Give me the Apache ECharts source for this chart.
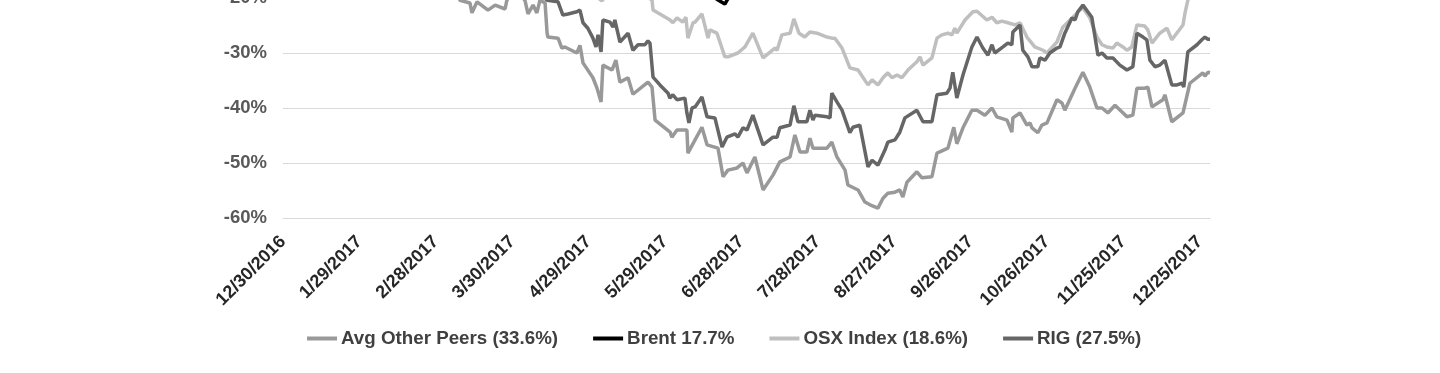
<!DOCTYPE html>
<html>
<head>
<meta charset="utf-8">
<script src="https://cdn.jsdelivr.net/npm/echarts@6/dist/echarts.min.js"></script>
<style>
  html, body { margin: 0; padding: 0; background: #fff; }
  #chart { width: 1440px; height: 373px; }
</style>
</head>
<body>
<div id="chart"></div>
<script>
// x = days since 12/30/2016, y = % change
const xTickLabels = ['12/30/2016','1/29/2017','2/28/2017','3/30/2017','4/29/2017','5/29/2017','6/28/2017','7/28/2017','8/27/2017','9/26/2017','10/26/2017','11/25/2017','12/25/2017'];
const yTicks = [-60, -50, -40, -30, -20];
const seriesNames = ['Avg Other Peers (33.6%)', 'Brent 17.7%', 'OSX Index (18.6%)', 'RIG (27.5%)'];

const avgPeers = [[0,0],[10,3],[20,1],[30,-3],[40,-6],[50,-10],[60,-14],[66,-17],
[69.5,-20.4],[73.4,-20.9],[74.2,-22.7],[76.2,-20.7],[80.5,-22.2],[83.3,-21.3],[87.2,-22.0],[87.9,-20.4],[91.1,-18.5],
[95.0,-20.4],[96.2,-22.9],[98.2,-21.3],[99.7,-22.7],[100.9,-20.4],[102.9,-20.9],[103.7,-26.4],[104.0,-27.1],[108.0,-27.3],
[109.5,-29.1],[110.7,-28.9],[115.4,-30.0],[116.6,-28.6],[117.8,-31.8],[121.7,-34.5],[123.3,-36.4],[124.9,-38.9],[125.6,-32.2],
[129.2,-33.1],[130.7,-31.3],[132.3,-35.3],[135.5,-34.5],[137.4,-37.5],[143.3,-35.3],[144.9,-36.2],[146.1,-42.2],[152.0,-44.4],
[152.7,-45.3],[154.7,-44.0],[158.6,-44.0],[159.0,-48.2],[161.8,-45.8],[164.5,-43.5],[166.5,-46.7],[170.8,-47.3],[172.8,-52.5],
[174.7,-51.3],[178.3,-50.9],[180.6,-50.0],[182.2,-51.8],[185.3,-48.9],[188.5,-54.9],[192.4,-52.2],[195.1,-49.8],[199.1,-48.9],
[201.0,-44.9],[203.0,-48.0],[205.7,-48.0],[206.9,-45.5],[208.1,-47.3],[213.6,-47.3],[215.5,-46.2],[217.5,-48.9],[220.7,-51.3],
[221.8,-54.0],[225.8,-54.9],[228.5,-57.1],[230.5,-57.6],[233.6,-58.2],[235.6,-56.4],[237.5,-55.5],[240.3,-55.3],[242.2,-54.9],
[243.4,-56.2],[245.0,-53.5],[248.9,-51.6],[250.9,-52.7],[254.8,-52.5],[256.8,-48.2],[261.1,-47.3],[263.4,-43.5],[264.6,-46.5],
[267.0,-43.6],[270.5,-40.4],[272.5,-40.4],[275.6,-41.3],[278.4,-40.0],[280.3,-41.6],[284.3,-42.2],[286.2,-44.4],[286.6,-41.8],
[289.4,-40.9],[292.1,-43.1],[293.3,-42.7],[294.1,-43.6],[296.4,-44.5],[298.0,-43.1],[300.0,-42.7],[303.9,-38.5],[305.9,-39.1],
[307.0,-40.4],[311.0,-36.4],[314.1,-33.5],[316.8,-36.2],[319.6,-40.0],[321.6,-40.0],[323.9,-40.9],[326.7,-39.5],[331.4,-41.6],
[333.7,-41.3],[335.3,-36.4],[338.4,-36.4],[339.6,-36.2],[341.2,-39.8],[345.5,-38.5],[346.3,-37.6],[349.0,-42.5],[353.4,-40.9],
[356.1,-35.5],[361.2,-33.6],[362.0,-34.2],[363.2,-33.5],[364,-33.6]];

const brent = [[0,0],[5,-1],[12,-2.5],[19,-3],[26,-3.5],[33,-0.5],[40,-1.5],[47,-2.5],[54,-1.5],[61,-1],[68,-7],[75,-10],
[82,-9],[89,-11],[96,-6],[103,-1],[110,-3],[117,-8],[124,-13.5],[131,-11],[138,-8],[145,-4.5],[152,-11],[159,-14],[164,-17],
[168,-19.5],[171,-20.4],[173.5,-21.1],[174.5,-20.3],[178,-18.5],[182,-16],[189,-16],[196,-14],[203,-13],[210,-9],[217,-7],
[224,-8.5],[231,-9.5],[238,-8],[245,-7],[252,-5],[259,-2],[266,-1],[273,1],[280,-1.5],[287,1],[294,3],[301,8],[308,6],
[315,10],[322,10.5],[329,12],[336,10],[343,11],[350,12.5],[357,16],[364,17.7]];

const osx = [[0,0],[7,2],[14,3],[21,1],[28,2],[35,-1],[42,-3],[49,-2],[56,-4],[63,-6],[70,-9],[77,-10],[84,-12],[91,-11],
[98,-13],[105,-14],[112,-16],[118,-18],[125.2,-20.5],[130,-18],[136,-17],[141,-19],
[144.9,-20.4],[145.3,-22.2],[152.0,-24.0],[153.1,-24.5],[154.7,-23.6],[157.0,-24.4],[158.2,-23.5],[159.0,-27.3],[161.0,-24.5],
[161.8,-24.4],[164.5,-22.9],[166.9,-27.3],[167.6,-25.8],[170.4,-26.4],[173.5,-30.7],[174.7,-30.7],[178.6,-30.0],[181.4,-28.9],
[184.5,-26.4],[188.5,-30.9],[193.2,-29.1],[194.0,-29.5],[195.9,-26.7],[199.1,-26.4],[200.6,-23.8],[202.6,-26.4],[204.9,-27.1],
[206.9,-26.2],[209.7,-26.4],[213.6,-27.1],[215.5,-27.3],[216.7,-27.3],[219.5,-29.1],[222.6,-32.7],[225.8,-33.1],[229.7,-35.8],
[231.3,-34.9],[233.6,-35.8],[235.6,-34.5],[237.5,-33.6],[239.1,-34.5],[241.1,-34.0],[243.0,-34.5],[245.4,-33.1],[248.9,-31.6],
[250.1,-30.7],[251.3,-32.2],[254.8,-30.9],[256.8,-27.3],[258.7,-26.7],[261.1,-26.4],[262.7,-26.7],[263.8,-25.5],[264.6,-26.4],
[267.8,-24.0],[270.9,-22.5],[272.5,-22.4],[276.4,-24.0],[278.4,-23.5],[280.3,-24.5],[282.3,-24.2],[284.6,-24.5],[287.4,-24.9],
[289.4,-24.5],[292.1,-27.1],[295.2,-28.9],[298.4,-29.5],[300.0,-30.0],[303.9,-28.0],[306.2,-25.3],[310.2,-23.5],[312.9,-22.2],
[314.1,-21.8],[316.8,-23.6],[319.6,-27.1],[321.6,-28.5],[323.5,-28.9],[325.9,-29.1],[327.4,-28.2],[329.8,-28.9],[331.4,-29.5],
[333.3,-28.9],[335.3,-24.9],[338.4,-25.1],[339.6,-25.8],[341.2,-28.2],[344.3,-26.4],[347.1,-25.5],[349.0,-27.6],[353.4,-24.9],
[354.2,-22.7],[355.3,-20.4],[358,-18],[361,-17],[364,-18.6]];

const rig = [[0,0],[7,4],[14,6],[21,3],[28,-1],[35,1],[42,-3],[49,-8],[56,-11],[63,-13],[70,-15],[77,-14],[84,-16],[91,-15],[98,-18],
[103.7,-20.4],[108.0,-20.7],[109.9,-23.1],[111.9,-22.9],[115.4,-22.5],[116.6,-22.2],[117.8,-24.5],[119.7,-25.5],[121.7,-27.3],
[122.9,-28.9],[123.7,-26.7],[124.9,-29.8],[125.6,-24.0],[128.4,-24.4],[129.6,-25.3],[130.3,-24.0],[132.3,-28.0],[135.5,-26.4],
[137.4,-29.5],[139.4,-28.5],[142.1,-28.5],[143.3,-27.8],[144.1,-28.2],[145.3,-34.4],[148.0,-35.8],[151.2,-37.3],[151.9,-38.2],
[153.1,-37.6],[154.7,-38.5],[157.8,-38.2],[158.6,-40.9],[159.4,-42.7],[160.6,-40.0],[161.8,-39.8],[164.5,-38.0],[166.5,-41.6],
[169.6,-41.8],[172.4,-47.1],[174.3,-45.3],[177.5,-44.7],[178.6,-45.3],[180.6,-43.6],[182.2,-44.0],[184.5,-41.3],[188.5,-46.7],
[192.4,-45.3],[194.0,-45.3],[195.1,-43.6],[199.1,-43.1],[200.6,-39.6],[202.2,-42.5],[205.7,-42.5],[206.9,-40.4],[208.1,-42.2],
[208.9,-41.3],[213.6,-41.6],[214.8,-41.8],[215.5,-37.3],[217.5,-38.9],[219.5,-40.4],[222.6,-44.5],[223.8,-43.5],[226.5,-43.1],
[229.7,-50.7],[231.3,-49.5],[233.6,-50.4],[236.4,-47.6],[237.5,-46.2],[240.3,-45.8],[242.2,-44.4],[244.2,-41.8],[248.9,-40.4],
[251.3,-42.5],[254.8,-42.5],[256.8,-37.6],[260.7,-37.3],[261.9,-36.4],[263.0,-33.5],[264.6,-38.2],[267.0,-34.0],[270.5,-28.9],
[272.5,-27.1],[274.8,-29.1],[276.8,-30.4],[278.4,-28.5],[279.5,-30.0],[282.7,-28.9],[284.6,-28.2],[286.2,-28.5],[286.6,-26.2],
[289.4,-24.9],[290.5,-29.5],[292.5,-30.7],[294.1,-32.5],[296.4,-32.5],[297.2,-30.9],[299.2,-31.3],[301.1,-30.0],[303.9,-29.1],
[305.1,-28.9],[307.0,-26.4],[309.8,-23.6],[311.0,-24.0],[312.1,-22.5],[314.1,-21.3],[317.6,-23.5],[320.0,-30.4],[321.6,-30.0],
[323.5,-30.9],[325.9,-30.9],[328.6,-32.2],[331.4,-33.1],[333.7,-32.5],[335.3,-26.4],[337.7,-27.1],[339.2,-27.6],[340.4,-31.3],
[342.4,-32.5],[344.3,-32.2],[346.3,-31.3],[349.0,-35.8],[351.0,-35.8],[353.0,-35.5],[353.7,-36.2],[355.3,-29.8],[358.9,-28.5],
[360.8,-27.6],[362.0,-27.1],[363.2,-27.5],[364,-27.5]];

const seriesData = [avgPeers, brent, osx, rig];
const seriesColors = ['#999999', '#000000', '#bfbfbf', '#666666'];

const FONT = '"Liberation Sans", Arial, sans-serif';
const chart = echarts.init(document.getElementById('chart'), null, { renderer: 'canvas' });
chart.setOption({
  animation: false,
  backgroundColor: '#ffffff',
  grid: { left: 283, top: -2, width: 927, height: 220, containLabel: false, outerBoundsMode: 'none' },
  xAxis: {
    type: 'value', min: 0, max: 364, interval: 30,
    axisLine: { show: true, lineStyle: { color: '#d9d9d9', width: 1 } },
    axisTick: { show: false },
    splitLine: { show: false },
    axisLabel: {
      rotate: 45, margin: 21,
      fontFamily: FONT, fontSize: 18, fontWeight: 'bold', color: '#262626',
      formatter: v => (v % 30 === 0 && xTickLabels[v / 30]) ? xTickLabels[v / 30] : ''
    }
  },
  yAxis: {
    type: 'value', min: yTicks[0], max: yTicks[yTicks.length - 1], interval: 10,
    axisLine: { show: false }, axisTick: { show: false },
    splitLine: { show: true, lineStyle: { color: '#d9d9d9', width: 1 } },
    axisLabel: {
      margin: 16, fontFamily: FONT, fontSize: 18.5, fontWeight: 'bold', color: '#595959',
      formatter: v => v + '%'
    }
  },
  legend: {
    top: 324, left: 302, itemGap: 35, itemWidth: 30, itemHeight: 4, icon: 'rect',
    textStyle: { fontFamily: FONT, fontSize: 18.75, fontWeight: 'bold', color: '#404040', padding: [0, 0, 0, -1] },
    data: seriesNames
  },
  series: seriesNames.map((n, i) => ({
    name: n, type: 'line', data: seriesData[i], showSymbol: false, symbol: 'none',
    clip: true, color: seriesColors[i],
    lineStyle: { color: seriesColors[i], width: 3.5 }
  }))
});
</script>
</body>
</html>
